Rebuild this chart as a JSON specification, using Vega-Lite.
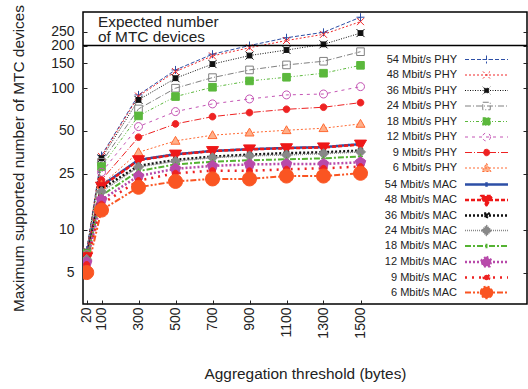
{
"$schema": "https://vega.github.io/schema/vega-lite/v6.json",
"width": 444, "height": 292,
"autosize": "none",
"padding": {"left": 83, "top": 12, "right": 1, "bottom": 85},
"background": "white",
"config": {
 "view": {"stroke": "black", "strokeWidth": 1.5},
 "font": "Liberation Sans",
 "axis": {"labelFont": "Liberation Sans", "titleFont": "Liberation Sans", "labelColor": "#222", "titleColor": "#222", "titleFontWeight": "normal", "labelFontSize": 14, "titleFontSize": 15.4, "grid": false, "domain": false, "tickColor": "#222", "tickWidth": 1, "labelOverlap": false},
 "legend": {"labelFont": "Liberation Sans"}
},
"data": {"values": [
{"s":"54 Mbit/s PHY","x":20,"y":7.2},{"s":"54 Mbit/s PHY","x":100,"y":33.5},{"s":"54 Mbit/s PHY","x":300,"y":89.7},{"s":"54 Mbit/s PHY","x":500,"y":134.6},{"s":"54 Mbit/s PHY","x":700,"y":173.8},{"s":"54 Mbit/s PHY","x":900,"y":200},{"s":"54 Mbit/s PHY","x":1100,"y":227},{"s":"54 Mbit/s PHY","x":1300,"y":248},{"s":"54 Mbit/s PHY","x":1500,"y":317},
{"s":"48 Mbit/s PHY","x":20,"y":7.1},{"s":"48 Mbit/s PHY","x":100,"y":33},{"s":"48 Mbit/s PHY","x":300,"y":88},{"s":"48 Mbit/s PHY","x":500,"y":131},{"s":"48 Mbit/s PHY","x":700,"y":169},{"s":"48 Mbit/s PHY","x":900,"y":193},{"s":"48 Mbit/s PHY","x":1100,"y":217},{"s":"48 Mbit/s PHY","x":1300,"y":240},{"s":"48 Mbit/s PHY","x":1500,"y":295},
{"s":"36 Mbit/s PHY","x":20,"y":7.0},{"s":"36 Mbit/s PHY","x":100,"y":32},{"s":"36 Mbit/s PHY","x":300,"y":82.7},{"s":"36 Mbit/s PHY","x":500,"y":117.6},{"s":"36 Mbit/s PHY","x":700,"y":148},{"s":"36 Mbit/s PHY","x":900,"y":170},{"s":"36 Mbit/s PHY","x":1100,"y":186},{"s":"36 Mbit/s PHY","x":1300,"y":204},{"s":"36 Mbit/s PHY","x":1500,"y":245},
{"s":"24 Mbit/s PHY","x":20,"y":6.9},{"s":"24 Mbit/s PHY","x":100,"y":30},{"s":"24 Mbit/s PHY","x":300,"y":71.4},{"s":"24 Mbit/s PHY","x":500,"y":100},{"s":"24 Mbit/s PHY","x":700,"y":118.8},{"s":"24 Mbit/s PHY","x":900,"y":134.6},{"s":"24 Mbit/s PHY","x":1100,"y":146},{"s":"24 Mbit/s PHY","x":1300,"y":155},{"s":"24 Mbit/s PHY","x":1500,"y":181},
{"s":"18 Mbit/s PHY","x":20,"y":6.8},{"s":"18 Mbit/s PHY","x":100,"y":28},{"s":"18 Mbit/s PHY","x":300,"y":63.8},{"s":"18 Mbit/s PHY","x":500,"y":87.3},{"s":"18 Mbit/s PHY","x":700,"y":101.6},{"s":"18 Mbit/s PHY","x":900,"y":112.6},{"s":"18 Mbit/s PHY","x":1100,"y":119.5},{"s":"18 Mbit/s PHY","x":1300,"y":127.6},{"s":"18 Mbit/s PHY","x":1500,"y":145},
{"s":"12 Mbit/s PHY","x":20,"y":6.7},{"s":"12 Mbit/s PHY","x":100,"y":25.5},{"s":"12 Mbit/s PHY","x":300,"y":53.6},{"s":"12 Mbit/s PHY","x":500,"y":68.4},{"s":"12 Mbit/s PHY","x":700,"y":77.5},{"s":"12 Mbit/s PHY","x":900,"y":84},{"s":"12 Mbit/s PHY","x":1100,"y":89.7},{"s":"12 Mbit/s PHY","x":1300,"y":91},{"s":"12 Mbit/s PHY","x":1500,"y":102.6},
{"s":"9 Mbit/s PHY","x":20,"y":6.6},{"s":"9 Mbit/s PHY","x":100,"y":22.5},{"s":"9 Mbit/s PHY","x":300,"y":45.1},{"s":"9 Mbit/s PHY","x":500,"y":56},{"s":"9 Mbit/s PHY","x":700,"y":63},{"s":"9 Mbit/s PHY","x":900,"y":67.3},{"s":"9 Mbit/s PHY","x":1100,"y":71},{"s":"9 Mbit/s PHY","x":1300,"y":73.4},{"s":"9 Mbit/s PHY","x":1500,"y":79.1},
{"s":"6 Mbit/s PHY","x":20,"y":6.4},{"s":"6 Mbit/s PHY","x":100,"y":20.8},{"s":"6 Mbit/s PHY","x":300,"y":35.3},{"s":"6 Mbit/s PHY","x":500,"y":42.5},{"s":"6 Mbit/s PHY","x":700,"y":46.6},{"s":"6 Mbit/s PHY","x":900,"y":48.6},{"s":"6 Mbit/s PHY","x":1100,"y":50.5},{"s":"6 Mbit/s PHY","x":1300,"y":52.2},{"s":"6 Mbit/s PHY","x":1500,"y":56},
{"s":"54 Mbit/s MAC","x":20,"y":6.5},{"s":"54 Mbit/s MAC","x":100,"y":20.5},{"s":"54 Mbit/s MAC","x":300,"y":31.2},{"s":"54 Mbit/s MAC","x":500,"y":34.2},{"s":"54 Mbit/s MAC","x":700,"y":36.1},{"s":"54 Mbit/s MAC","x":900,"y":37.1},{"s":"54 Mbit/s MAC","x":1100,"y":37.9},{"s":"54 Mbit/s MAC","x":1300,"y":38.4},{"s":"54 Mbit/s MAC","x":1500,"y":40.3},
{"s":"48 Mbit/s MAC","x":20,"y":6.4},{"s":"48 Mbit/s MAC","x":100,"y":20.2},{"s":"48 Mbit/s MAC","x":300,"y":31},{"s":"48 Mbit/s MAC","x":500,"y":34},{"s":"48 Mbit/s MAC","x":700,"y":36},{"s":"48 Mbit/s MAC","x":900,"y":37},{"s":"48 Mbit/s MAC","x":1100,"y":37.7},{"s":"48 Mbit/s MAC","x":1300,"y":38.2},{"s":"48 Mbit/s MAC","x":1500,"y":40},
{"s":"36 Mbit/s MAC","x":20,"y":6.3},{"s":"36 Mbit/s MAC","x":100,"y":19.5},{"s":"36 Mbit/s MAC","x":300,"y":28.3},{"s":"36 Mbit/s MAC","x":500,"y":31.2},{"s":"36 Mbit/s MAC","x":700,"y":32.9},{"s":"36 Mbit/s MAC","x":900,"y":34},{"s":"36 Mbit/s MAC","x":1100,"y":34.8},{"s":"36 Mbit/s MAC","x":1300,"y":35.3},{"s":"36 Mbit/s MAC","x":1500,"y":36.3},
{"s":"24 Mbit/s MAC","x":20,"y":6.2},{"s":"24 Mbit/s MAC","x":100,"y":18.6},{"s":"24 Mbit/s MAC","x":300,"y":27.8},{"s":"24 Mbit/s MAC","x":500,"y":30.5},{"s":"24 Mbit/s MAC","x":700,"y":32.3},{"s":"24 Mbit/s MAC","x":900,"y":33.3},{"s":"24 Mbit/s MAC","x":1100,"y":33.8},{"s":"24 Mbit/s MAC","x":1300,"y":34.5},{"s":"24 Mbit/s MAC","x":1500,"y":35.5},
{"s":"18 Mbit/s MAC","x":20,"y":6.0},{"s":"18 Mbit/s MAC","x":100,"y":17.5},{"s":"18 Mbit/s MAC","x":300,"y":26},{"s":"18 Mbit/s MAC","x":500,"y":29},{"s":"18 Mbit/s MAC","x":700,"y":30.3},{"s":"18 Mbit/s MAC","x":900,"y":31},{"s":"18 Mbit/s MAC","x":1100,"y":31.5},{"s":"18 Mbit/s MAC","x":1300,"y":32},{"s":"18 Mbit/s MAC","x":1500,"y":33},
{"s":"12 Mbit/s MAC","x":20,"y":5.9},{"s":"12 Mbit/s MAC","x":100,"y":16.3},{"s":"12 Mbit/s MAC","x":300,"y":24},{"s":"12 Mbit/s MAC","x":500,"y":27},{"s":"12 Mbit/s MAC","x":700,"y":28.3},{"s":"12 Mbit/s MAC","x":900,"y":29},{"s":"12 Mbit/s MAC","x":1100,"y":29.2},{"s":"12 Mbit/s MAC","x":1300,"y":29.2},{"s":"12 Mbit/s MAC","x":1500,"y":30},
{"s":"9 Mbit/s MAC","x":20,"y":5.7},{"s":"9 Mbit/s MAC","x":100,"y":15.2},{"s":"9 Mbit/s MAC","x":300,"y":22.3},{"s":"9 Mbit/s MAC","x":500,"y":25.1},{"s":"9 Mbit/s MAC","x":700,"y":26.2},{"s":"9 Mbit/s MAC","x":900,"y":26.1},{"s":"9 Mbit/s MAC","x":1100,"y":26.8},{"s":"9 Mbit/s MAC","x":1300,"y":27.2},{"s":"9 Mbit/s MAC","x":1500,"y":28},
{"s":"6 Mbit/s MAC","x":20,"y":5.0},{"s":"6 Mbit/s MAC","x":100,"y":13.8},{"s":"6 Mbit/s MAC","x":300,"y":20},{"s":"6 Mbit/s MAC","x":500,"y":22},{"s":"6 Mbit/s MAC","x":700,"y":22.9},{"s":"6 Mbit/s MAC","x":900,"y":22.9},{"s":"6 Mbit/s MAC","x":1100,"y":24},{"s":"6 Mbit/s MAC","x":1300,"y":24},{"s":"6 Mbit/s MAC","x":1500,"y":25.1}
]},
"resolve": {"axis": {"y": "independent"}},
"layer": [
 {
  "mark": {"type": "line", "strokeCap": "butt", "clip": true},
  "encoding": {
   "x": {"field": "x", "type": "quantitative", "scale": {"domain": [0, 2400], "nice": false, "zero": false},
     "axis": {"values": [20,100,300,500,700,900,1100,1300,1500], "format": "d", "labelAngle": -90, "tickSize": -4, "labelPadding": 7, "title": "Aggregation threshold (bytes)", "titlePadding": 28}},
   "y": {"field": "y", "type": "quantitative", "scale": {"type": "log", "domain": [3, 345], "nice": false},
     "axis": {"orient": "left", "values": [5,10,25,50,100,150,200,250], "format": "d", "tickSize": -4, "labelPadding": 13, "title": "Maximum supported number of MTC devices", "titlePadding": 24}},
   "stroke": {"field": "s", "type": "nominal",
     "scale": {"domain": ["54 Mbit/s PHY","48 Mbit/s PHY","36 Mbit/s PHY","24 Mbit/s PHY","18 Mbit/s PHY","12 Mbit/s PHY","9 Mbit/s PHY","6 Mbit/s PHY","54 Mbit/s MAC","48 Mbit/s MAC","36 Mbit/s MAC","24 Mbit/s MAC","18 Mbit/s MAC","12 Mbit/s MAC","9 Mbit/s MAC","6 Mbit/s MAC"],
       "range": ["#2d4fa6","#f0282a","#111111","#808080","#5bb83c","#c454b4","#ee2222","#ff6a33","#2d4fa6","#ee1818","#111111","#888888","#55b333","#b84aaa","#ee2222","#fa5522"]},
     "legend": {"title": null, "orient": "none", "legendX": 397, "legendY": 42, "direction": "vertical", "padding": 0, "gridAlign": "all",
       "symbolSize": 100, "symbolOpacity": 1, "labelFontSize": 11, "labelColor": "#222", "labelAlign": "right", "labelOffset": -36, "rowPadding": 1.5, "labelLimit": 200,
       "encode": {"symbols": {"update": {
         "shape": {"signal": "['M-4.3,0H4.3M-0.8,0H0.8M0,-0.8V0.8','M-4.3,0H4.3M-0.7,-0.7L0.7,0.7M-0.7,0.7L0.7,-0.7','M-4.3,0H4.3M-0.75,-0.75L0.75,0.75M-0.75,0.75L0.75,-0.75M-0.45,-0.45H0.45V0.45H-0.45Z','M-4.3,0H4.3M-0.75,-0.75H0.75V0.75H-0.75Z','M-4.3,0H4.3M-0.75,-0.75H0.75V0.75H-0.75Z','M-4.3,0H4.3M0.8,0A0.8,0.8,0,1,1,-0.8,0A0.8,0.8,0,1,1,0.8,0Z','M-4.3,0H4.3M0.65,0A0.65,0.65,0,1,1,-0.65,0A0.65,0.65,0,1,1,0.65,0Z','M-4.3,0H4.3M0,-0.95L0.9,0.7H-0.9Z','M-4.3,0H4.3M0,-0.45V0.45','M-4.3,0H4.3M0,1.05L1.1,-0.8H-1.1Z','M-4.3,0H4.3M0,0.5L0.5,-0.4H-0.5Z','M-4.3,0H4.3M0,-1L1,0L0,1L-1,0Z','M-4.3,0H4.3M0,-0.45V0.45','M-4.3,0H4.3M0,-1.05L1,-0.32L0.62,0.85L-0.62,0.85L-1,-0.32Z','M-4.3,0H4.3M0.55,0A0.55,0.55,0,1,1,-0.55,0A0.55,0.55,0,1,1,0.55,0Z','M-4.3,0H4.3M1.15,0A1.15,1.15,0,1,1,-1.15,0A1.15,1.15,0,1,1,1.15,0Z'][indexof(domain('stroke'), datum.value)]"},
         "fill": {"scale": "fill", "field": "value"},
         "strokeDash": {"scale": "strokeDash", "field": "value"},
         "strokeWidth": {"scale": "strokeWidth", "field": "value"},
         "strokeJoin": {"value": "round"},
         "size": {"value": 100},
         "opacity": {"value": 1}
       }}}}},
   "strokeDash": {"field": "s", "type": "nominal", "legend": null,
     "scale": {"domain": ["54 Mbit/s PHY","48 Mbit/s PHY","36 Mbit/s PHY","24 Mbit/s PHY","18 Mbit/s PHY","12 Mbit/s PHY","9 Mbit/s PHY","6 Mbit/s PHY","54 Mbit/s MAC","48 Mbit/s MAC","36 Mbit/s MAC","24 Mbit/s MAC","18 Mbit/s MAC","12 Mbit/s MAC","9 Mbit/s MAC","6 Mbit/s MAC"],
       "range": [[4,2],[2,2],[1,1.5],[6,2,1,2],[3,2,1,2,1,2],[3,4],[7,2,1,2],[2,2],[1,0],[4,2],[2,2],[1,1],[6,2,2,2],[2,2],[2,5],[6,2,2,2,2,2]]}},
   "strokeWidth": {"field": "s", "type": "ordinal", "legend": null,
     "scale": {"type": "ordinal", "domain": ["54 Mbit/s PHY","48 Mbit/s PHY","36 Mbit/s PHY","24 Mbit/s PHY","18 Mbit/s PHY","12 Mbit/s PHY","9 Mbit/s PHY","6 Mbit/s PHY","54 Mbit/s MAC","48 Mbit/s MAC","36 Mbit/s MAC","24 Mbit/s MAC","18 Mbit/s MAC","12 Mbit/s MAC","9 Mbit/s MAC","6 Mbit/s MAC"],
       "range": [1,1,1,1,1,1,1,1,2.5,2.5,2.5,1.5,2,2.5,2.5,2]}}
  }
 },
 {
  "mark": {"type": "point", "opacity": 1, "strokeWidth": 1, "filled": false, "clip": true},
  "encoding": {
   "x": {"field": "x", "type": "quantitative"},
   "y": {"field": "y", "type": "quantitative",
     "axis": {"orient": "right", "values": [5,10,25,50,100,150,200,250], "labels": false, "title": null, "tickSize": -4}},
   "color": {"field": "s", "type": "nominal", "legend": null,
     "scale": {"domain": ["6 Mbit/s MAC","9 Mbit/s MAC","12 Mbit/s MAC","18 Mbit/s MAC","24 Mbit/s MAC","36 Mbit/s MAC","48 Mbit/s MAC","54 Mbit/s MAC","6 Mbit/s PHY","9 Mbit/s PHY","12 Mbit/s PHY","18 Mbit/s PHY","24 Mbit/s PHY","36 Mbit/s PHY","48 Mbit/s PHY","54 Mbit/s PHY"],
       "range": ["#fa5522","#ee2222","#b84aaa","#55b333","#888888","#111111","#ee1818","#2d4fa6","#ff6a33","#ee2222","#c454b4","#5bb83c","#808080","#111111","#f0282a","#2d4fa6"]}},
   "fill": {"field": "s", "type": "nominal", "legend": null,
     "scale": {"domain": ["6 Mbit/s MAC","9 Mbit/s MAC","12 Mbit/s MAC","18 Mbit/s MAC","24 Mbit/s MAC","36 Mbit/s MAC","48 Mbit/s MAC","54 Mbit/s MAC","6 Mbit/s PHY","9 Mbit/s PHY","12 Mbit/s PHY","18 Mbit/s PHY","24 Mbit/s PHY","36 Mbit/s PHY","48 Mbit/s PHY","54 Mbit/s PHY"],
       "range": ["#fa5522","#ee2222","#b84aaa","#55b333","#888888","#111111","#ee1818","#2d4fa6","#ffb08a","#ee2222","transparent","#5bb83c","transparent","#111111","transparent","transparent"]}},
   "shape": {"field": "s", "type": "nominal", "legend": null,
     "scale": {"domain": ["6 Mbit/s MAC","9 Mbit/s MAC","12 Mbit/s MAC","18 Mbit/s MAC","24 Mbit/s MAC","36 Mbit/s MAC","48 Mbit/s MAC","54 Mbit/s MAC","6 Mbit/s PHY","9 Mbit/s PHY","12 Mbit/s PHY","18 Mbit/s PHY","24 Mbit/s PHY","36 Mbit/s PHY","48 Mbit/s PHY","54 Mbit/s PHY"],
       "range": ["M1,0A1,1,0,1,1,-1,0A1,1,0,1,1,1,0Z","M1,0A1,1,0,1,1,-1,0A1,1,0,1,1,1,0Z","M0,-1L0.95,-0.31L0.59,0.81L-0.59,0.81L-0.95,-0.31Z","M-1,0H1M0,-1V1","M0,-1L1,0L0,1L-1,0Z","M0,1L1,-0.75H-1Z","M0,1L1,-0.75H-1Z","M-1,0H1M0,-1V1","M0,-1L1,0.75H-1Z","M1,0A1,1,0,1,1,-1,0A1,1,0,1,1,1,0Z","M1,0A1,1,0,1,1,-1,0A1,1,0,1,1,1,0Z","M-1,-1H1V1H-1Z","M-1,-1H1V1H-1Z","M-1,-1L1,1M-1,1L1,-1M-0.6,-0.6H0.6V0.6H-0.6Z","M-1,-1L1,1M-1,1L1,-1","M-1,0H1M0,-1V1"]}},
   "size": {"field": "s", "type": "ordinal", "legend": null,
     "scale": {"type": "ordinal", "domain": ["6 Mbit/s MAC","9 Mbit/s MAC","12 Mbit/s MAC","18 Mbit/s MAC","24 Mbit/s MAC","36 Mbit/s MAC","48 Mbit/s MAC","54 Mbit/s MAC","6 Mbit/s PHY","9 Mbit/s PHY","12 Mbit/s PHY","18 Mbit/s PHY","24 Mbit/s PHY","36 Mbit/s PHY","48 Mbit/s PHY","54 Mbit/s PHY"],
       "range": [196,36,121,25,100,25,144,25,81,44,64,58,58,64,49,64]}}
  }
 },
 {
  "data": {"values": [{}]},
  "mark": {"type": "rule", "color": "black", "strokeWidth": 1.5},
  "encoding": {"y": {"datum": 200, "axis": null}}
 },
 {
  "data": {"values": [{}]},
  "mark": {"type": "text", "text": ["Expected number", "of MTC devices"], "align": "left", "baseline": "alphabetic", "fontSize": 15.4, "lineHeight": 15.5, "font": "Liberation Sans", "color": "#222"},
  "encoding": {"x": {"datum": 81}, "y": {"datum": 272, "axis": null}}
 }
]
}
